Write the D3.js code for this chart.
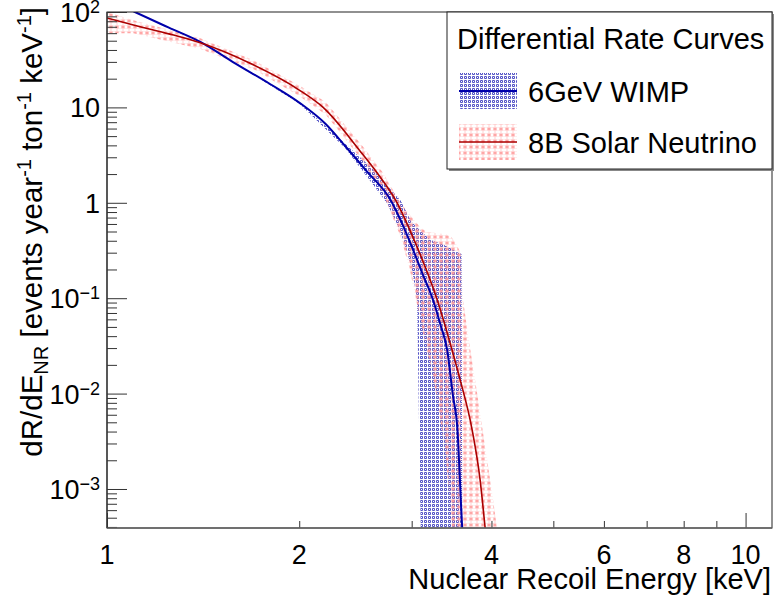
<!DOCTYPE html>
<html lang="en">
<head>
  <meta charset="UTF-8">
  <title>Differential Rate Curves</title>
  <script src="https://d3js.org/d3.v7.min.js"></script>
  <style>
    body {
      margin: 0;
      background: #fff;
    }
    svg {
      display: block;
      font-family: "Liberation Sans", Arial, sans-serif;
    }
    .line {
      fill: none;
    }
  </style>
</head>
<body>
  <svg width="776" height="604"></svg>

  <script>
    // 6 GeV WIMP curve and its band
    const wimpE = [1.0, 1.106, 1.25, 1.4, 1.575, 1.8, 2.005, 2.2, 2.36, 2.55, 2.78, 2.9, 3.005, 3.12, 3.24, 3.33, 3.41, 3.48, 3.54, 3.57, 3.60, 3.62];
    const wimpR = [138, 100, 68.5, 48.5, 29.9, 17.6, 11.1, 6.7, 3.94, 2.15, 1.07, 0.6, 0.34, 0.18, 0.0957, 0.052, 0.0286, 0.0097, 0.0040, 0.00124, 0.00039, 0.00026];
    const wimpBandE  = [1.0, 1.106, 1.4, 1.6, 2.0, 2.36, 2.6, 2.75, 2.88, 3.0, 3.06, 3.09, 3.15, 3.21, 3.41, 3.55, 3.59, 3.61];
    const wimpBandLo = [137, 99, 48, 27.9, 11.0, 3.75, 1.6, 0.97, 0.5, 0.21, 0.096, 0.0012, 1e-6, 1e-6, 1e-6, 1e-6, 1e-6, 1e-6];
    const wimpBandHi = [139, 101, 49, 28.5, 11.3, 4.15, 2.3, 1.5, 1.07, 0.63, 0.55, 0.52, 0.46, 0.41, 0.35, 0.30, 0.29, 1e-6];

    // 8B solar neutrino curve and its band
    const nuE = [1.0, 1.1, 1.25, 1.4, 1.675, 2.0, 2.18, 2.49, 2.65, 2.83, 3.04, 3.29, 3.47, 3.57, 3.73, 3.84, 3.91, 3.95];
    const nuR = [86.5, 73, 59, 47.5, 29, 15.2, 10, 3.5, 2.05, 1.07, 0.38, 0.0957, 0.0286, 0.0142, 0.0042, 0.00124, 0.00039, 0.0002];
    const nuBandE  = [1.0, 1.1, 1.4, 1.7, 2.0, 2.2, 2.5, 2.7, 2.88, 2.98, 3.09, 3.17, 3.21, 3.29, 3.39, 3.47, 3.53, 3.56, 3.59, 3.61, 3.70, 3.80, 3.91, 4.0, 4.08, 4.15];
    const nuBandLo = [60, 60, 41, 25, 13.2, 8.4, 2.9, 1.3, 0.45, 0.2, 0.062, 0.028, 0.0204, 0.0085, 0.0023, 0.00039, 1e-6, 1e-6, 1e-6, 1e-6, 1e-6, 1e-6, 1e-6, 1e-6, 1e-6, 1e-6];
    const nuBandHi = [100, 82, 53, 31, 17, 11.4, 4.1, 2.1, 1.0, 0.75, 0.56, 0.49, 0.49, 0.48, 0.47, 0.43, 0.36, 0.32, 0.28, 0.096, 0.031, 0.0099, 0.00275, 0.00102, 0.00039, 0.00015];

    const xTickLabels = [1, 2, 4, 6, 8, 10];
    const yTickVals = [1e-3, 1e-2, 1e-1, 1, 10, 100];
    const yTickLabels = [["10", "\u22123"], ["10", "\u22122"], ["10", "\u22121"], ["1", ""], ["10", ""], ["10", "2"]];
    const legendNames = ["6GeV WIMP", "8B Solar Neutrino"];

    const svg = d3.select("svg");
    const pLeft = 107, pRight = 772, pTop = 12, pBottom = 528;

    const x = d3.scaleLog().domain([1, 11]).range([pLeft, pRight]);
    const y = d3.scaleLog().domain([3.9e-4, 100]).range([pBottom, pTop]);

    // fill patterns
    const defs = svg.append("defs");
    const dots = defs.append("pattern")
      .attr("id", "dots").attr("patternUnits", "userSpaceOnUse")
      .attr("width", 4).attr("height", 4);
    dots.append("path").attr("d", "M0.5,0.5h2v2h-2z")
      .attr("fill", "none").attr("stroke", "#5252c6").attr("stroke-width", 1);

    const stars = defs.append("pattern")
      .attr("id", "stars").attr("patternUnits", "userSpaceOnUse")
      .attr("width", 6).attr("height", 6);
    stars.append("path")
      .attr("d", "M3,0.5v5M0.8,1.7l4.4,2.6M0.8,4.3l4.4,-2.6")
      .attr("stroke", "#ff9a9a").attr("stroke-width", 0.9).attr("fill", "none");

    defs.append("clipPath").attr("id", "plot")
      .append("rect").attr("x", pLeft).attr("y", pTop)
      .attr("width", pRight - pLeft).attr("height", pBottom - pTop);

    const plot = svg.append("g").attr("clip-path", "url(#plot)");

    const area = d3.area()
      .x(d => x(d[0]))
      .y0(d => y(d[1]))
      .y1(d => y(d[2]));

    const line = d3.line()
      .x(d => x(d[0]))
      .y(d => y(d[1]))
      .curve(d3.curveMonotoneX);

    // bands
    plot.append("path")
      .datum(wimpBandE.map((e, i) => [e, wimpBandLo[i], wimpBandHi[i]]))
      .attr("fill", "url(#dots)")
      .attr("d", area);

    plot.append("path")
      .datum(nuBandE.map((e, i) => [e, nuBandLo[i], nuBandHi[i]]))
      .attr("fill", "url(#stars)")
      .attr("d", area);

    // curves
    plot.append("path")
      .datum(wimpE.map((e, i) => [e, wimpR[i]]))
      .attr("class", "line")
      .attr("stroke", "#0000aa")
      .attr("stroke-width", 2)
      .attr("d", line);

    plot.append("path")
      .datum(nuE.map((e, i) => [e, nuR[i]]))
      .attr("class", "line")
      .attr("stroke", "#aa0000")
      .attr("stroke-width", 1.6)
      .attr("d", line);

    // frame
    svg.append("rect")
      .attr("x", pLeft).attr("y", pTop)
      .attr("width", pRight - pLeft).attr("height", pBottom - pTop)
      .attr("fill", "none").attr("stroke", "#222").attr("stroke-width", 1);

    // y ticks
    const yMinor = [];
    for (let d = -4; d <= 1; d++) {
      for (let k = 2; k <= 9; k++) {
        const v = k * Math.pow(10, d);
        if (v >= 3.9e-4 && v <= 100) yMinor.push(v);
      }
    }
    svg.append("g")
      .attr("transform", `translate(${pLeft},0)`)
      .call(d3.axisLeft(y).tickValues(yTickVals).tickSize(-20).tickFormat(""))
      .call(g => g.select(".domain").remove());
    svg.append("g")
      .attr("transform", `translate(${pLeft},0)`)
      .call(d3.axisLeft(y).tickValues(yMinor).tickSize(-10).tickFormat(""))
      .call(g => g.select(".domain").remove());

    // x ticks
    svg.append("g")
      .attr("transform", `translate(0,${pBottom})`)
      .call(d3.axisBottom(x).tickValues([1, 10]).tickSize(-15).tickFormat(""))
      .call(g => g.select(".domain").remove());
    svg.append("g")
      .attr("transform", `translate(0,${pBottom})`)
      .call(d3.axisBottom(x).tickValues([2, 3, 4, 5, 6, 7, 8, 9]).tickSize(-7).tickFormat(""))
      .call(g => g.select(".domain").remove());
    svg.selectAll(".tick line").attr("stroke", "#333");

    // axis lines
    svg.append("line").attr("x1", pLeft).attr("x2", pRight)
      .attr("y1", pBottom).attr("y2", pBottom)
      .attr("stroke", "#666").attr("stroke-width", 1.5);
    svg.append("line").attr("x1", pLeft).attr("x2", pLeft)
      .attr("y1", pTop).attr("y2", pBottom)
      .attr("stroke", "#333").attr("stroke-width", 1.2);

    // x labels
    svg.selectAll(".xlab")
      .data(xTickLabels)
      .enter().append("text")
      .attr("class", "xlab")
      .attr("x", d => x(d))
      .attr("y", 564)
      .attr("text-anchor", "middle")
      .attr("font-size", 27)
      .text(d => d);

    // y labels
    yTickVals.forEach((v, i) => {
      const t = svg.append("text")
        .attr("x", 100)
        .attr("y", y(v) + 10)
        .attr("text-anchor", "end")
        .attr("font-size", 27);
      t.append("tspan").text(yTickLabels[i][0]);
      if (yTickLabels[i][1]) {
        t.append("tspan").attr("font-size", 18).attr("dy", -9).text(yTickLabels[i][1]);
      }
    });

    // axis titles
    svg.append("text")
      .attr("x", 771).attr("y", 589)
      .attr("text-anchor", "end")
      .attr("font-size", 29)
      .text("Nuclear Recoil Energy [keV]");

    const yt = svg.append("text")
      .attr("transform", "translate(42,7) rotate(-90)")
      .attr("text-anchor", "end")
      .attr("font-size", 29.5);
    yt.append("tspan").text("dR/dE");
    yt.append("tspan").attr("font-size", 20).attr("dy", 6).text("NR");
    yt.append("tspan").attr("dy", -6).text(" [events year");
    yt.append("tspan").attr("font-size", 20).attr("dy", -11).text("-1");
    yt.append("tspan").attr("dy", 11).text(" ton");
    yt.append("tspan").attr("font-size", 20).attr("dy", -11).text("-1");
    yt.append("tspan").attr("dy", 11).text(" keV");
    yt.append("tspan").attr("font-size", 20).attr("dy", -11).text("-1");
    yt.append("tspan").attr("dy", 11).text("]");

    // legend
    const lg = svg.append("g");
    lg.append("rect")
      .attr("x", 449).attr("y", 14)
      .attr("width", pRight - 447).attr("height", 157)
      .attr("fill", "#888");
    lg.append("rect")
      .attr("x", 447).attr("y", pTop)
      .attr("width", pRight - 447).attr("height", 157)
      .attr("fill", "#fff").attr("stroke", "#222").attr("stroke-width", 1);
    lg.append("text")
      .attr("x", 457).attr("y", 49)
      .attr("font-size", 29)
      .text("Differential Rate Curves");

    const entries = [
      { fill: "url(#dots)", stroke: "#0000aa", w: 2, cy: 91 },
      { fill: "url(#stars)", stroke: "#aa0000", w: 1.6, cy: 142 }
    ];
    entries.forEach((e, i) => {
      lg.append("rect")
        .attr("x", 459).attr("y", e.cy - 18)
        .attr("width", 58).attr("height", 36)
        .attr("fill", e.fill);
      lg.append("line")
        .attr("x1", 459).attr("x2", 517)
        .attr("y1", e.cy).attr("y2", e.cy)
        .attr("stroke", e.stroke).attr("stroke-width", e.w);
      lg.append("text")
        .attr("x", 528).attr("y", e.cy + 11)
        .attr("font-size", 29)
        .text(legendNames[i]);
    });
  </script>
</body>
</html>
